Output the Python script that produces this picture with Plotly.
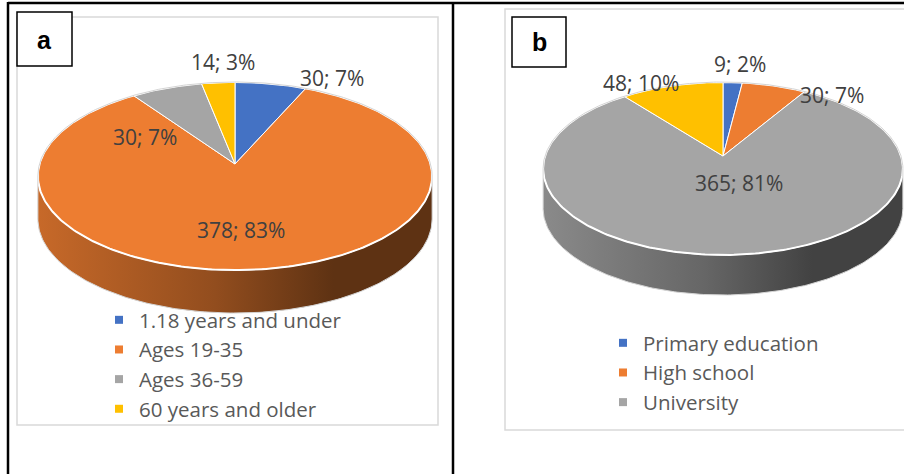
import numpy as np
import plotly.graph_objects as go

# ---------------- data ----------------
age_categories = ["1.18 years and under", "Ages 19-35", "Ages 36-59", "60 years and older"]
age_counts = [30, 378, 30, 14]
age_percents = [7, 83, 7, 3]

edu_categories = ["Primary education", "High school", "University", ""]
edu_counts = [9, 30, 365, 48]
edu_percents = [2, 7, 81, 10]

slice_colors = ["#4472C4", "#ED7D31", "#A5A5A5", "#FFC000"]

# ---------------- layout / styling ----------------
W, H = 904, 474
FONT = "Open Sans"
LABEL_COLOR = "#404040"
LEGEND_COLOR = "#595959"

# 3D pie geometry (pixel space): centre, radii, perspective, depth
pies = [
    dict(counts=age_counts, percents=age_percents, names=age_categories,
         cx=235, cy=164, R=195.5, R2=92.5, k=0.128, depth=43,
         label_pos=[(332, 78), (241, 230), (145, 137), (223, 62)], legend="legend",
         legend_n=4),
    dict(counts=edu_counts, percents=edu_percents, names=edu_categories,
         cx=723, cy=156, R=178, R2=84.7, k=0.1445, depth=40,
         label_pos=[(740, 64), (832, 95), (739, 183), (641, 83)], legend="legend2",
         legend_n=3),
]


def proj(phi, p, dy=0.0):
    u, v = np.sin(phi), np.cos(phi)
    d = 1 + p["k"] * v
    return p["cx"] + p["R"] * u / d, p["cy"] - p["R2"] * v / d + dy


def shade(hex_color, f):
    h = hex_color.lstrip("#")
    r, g, b = (int(h[i:i + 2], 16) for i in (0, 2, 4))
    return "rgb(%d,%d,%d)" % (r * f, g * f, b * f)


fig = go.Figure()
annotations = []

for p in pies:
    counts = np.array(p["counts"], dtype=float)
    total = counts.sum()
    bounds = np.concatenate([[0], np.cumsum(counts)]) / total * 2 * np.pi
    phi_s = np.arccos(-p["k"])
    xl, _ = proj(2 * np.pi - phi_s, p)
    xr, _ = proj(phi_s, p)

    # side (front rim) pieces
    for i in range(len(counts)):
        a, b = bounds[i], bounds[i + 1]
        lo, hi = max(a, phi_s), min(b, 2 * np.pi - phi_s)
        if hi <= lo:
            continue
        t = np.linspace(lo, hi, max(3, int((hi - lo) * 90)))
        xt, yt = proj(t, p)
        xb, yb = proj(t[::-1], p, p["depth"])
        c = slice_colors[i]
        fig.add_trace(go.Scatter(
            x=np.concatenate([xt, xb, xt[:1]]), y=np.concatenate([yt, yb, yt[:1]]),
            mode="lines", fill="toself", line=dict(width=0, color=shade(c, 0.6)),
            fillgradient=dict(type="horizontal", start=xl, stop=xr,
                              colorscale=[[0, shade(c, 0.84)], [0.45, shade(c, 0.62)],
                                          [0.75, shade(c, 0.4)], [1, shade(c, 0.4)]]),
            showlegend=False, hoverinfo="skip"))

    # top face wedges
    for i in range(len(counts)):
        a, b = bounds[i], bounds[i + 1]
        t = np.linspace(a, b, max(3, int((b - a) * 90)))
        xa, ya = proj(t, p)
        fig.add_trace(go.Scatter(
            x=np.concatenate([[p["cx"]], xa, [p["cx"]]]),
            y=np.concatenate([[p["cy"]], ya, [p["cy"]]]),
            mode="lines", fill="toself", fillcolor=slice_colors[i],
            line=dict(color="white", width=1),
            showlegend=False, hoverinfo="skip"))

    # white rim of top face
    t = np.linspace(0, 2 * np.pi, 361)
    xa, ya = proj(t, p)
    fig.add_trace(go.Scatter(x=xa, y=ya, mode="lines",
                             line=dict(color="white", width=2),
                             showlegend=False, hoverinfo="skip"))
    # light grey silhouette
    tb = np.linspace(-phi_s, phi_s, 200)
    tf = np.linspace(phi_s, 2 * np.pi - phi_s, 200)
    x1, y1 = proj(tb, p)
    x2, y2 = proj(tf, p, p["depth"])
    fig.add_trace(go.Scatter(x=np.concatenate([x1, x2, x1[:1]]),
                             y=np.concatenate([y1, y2, y1[:1]]),
                             mode="lines", line=dict(color="#d4d4d4", width=1),
                             showlegend=False, hoverinfo="skip"))

    # data labels
    for (lx, ly), c, pc in zip(p["label_pos"], p["counts"], p["percents"]):
        annotations.append(dict(x=lx, y=ly, xref="x", yref="y", text=f"{c}; {pc}%",
                                showarrow=False,
                                font=dict(family=FONT, size=21, color=LABEL_COLOR)))

    # legend entries
    for i in range(p["legend_n"]):
        fig.add_trace(go.Scatter(x=[None], y=[None], mode="markers", name=p["names"][i],
                                 marker=dict(symbol="square", size=8, color=slice_colors[i]),
                                 legend=p["legend"]))

# panel letters
annotations += [
    dict(x=44.5, y=40, xref="x", yref="y", text="<b>a</b>", showarrow=False,
         font=dict(family="Liberation Sans", size=25, color="black")),
    dict(x=539, y=42, xref="x", yref="y", text="<b>b</b>", showarrow=False,
         font=dict(family="Liberation Sans", size=25, color="black")),
]

shapes = [
    dict(type="rect", x0=17, x1=438, y0=17, y1=425, line=dict(color="#d9d9d9", width=1.5), layer="below"),
    dict(type="rect", x0=505, x1=910, y0=9, y1=430, line=dict(color="#d9d9d9", width=1.5), layer="below"),
    dict(type="line", x0=8, x1=904, y0=3, y1=3, line=dict(color="black", width=2.5)),
    dict(type="line", x0=8, x1=8, y0=2, y1=474, line=dict(color="black", width=2.5)),
    dict(type="line", x0=453, x1=453, y0=2, y1=474, line=dict(color="black", width=2.5)),
    dict(type="rect", x0=17, x1=72, y0=12, y1=66, line=dict(color="black", width=1.5), fillcolor="white"),
    dict(type="rect", x0=512, x1=566, y0=17, y1=67, line=dict(color="black", width=1.5), fillcolor="white"),
]

legend_style = dict(font=dict(family=FONT, size=20.5, color=LEGEND_COLOR),
                    bgcolor="rgba(0,0,0,0)", borderwidth=0, xanchor="left", yanchor="top")

fig.update_layout(
    width=W, height=H, margin=dict(l=0, r=0, t=0, b=0, pad=0),
    paper_bgcolor="white", plot_bgcolor="white",
    xaxis=dict(range=[0, W], visible=False, fixedrange=True),
    yaxis=dict(range=[H, 0], visible=False, fixedrange=True),
    showlegend=True,
    legend=dict(x=99 / W, y=1 - 300 / H, **legend_style),
    legend2=dict(x=603 / W, y=1 - 323 / H, **legend_style),
    annotations=annotations, shapes=shapes,
)

fig.write_html("out.html", config={"displayModeBar": False},
               post_script="document.body.style.margin='0';document.body.style.overflow='hidden';")
